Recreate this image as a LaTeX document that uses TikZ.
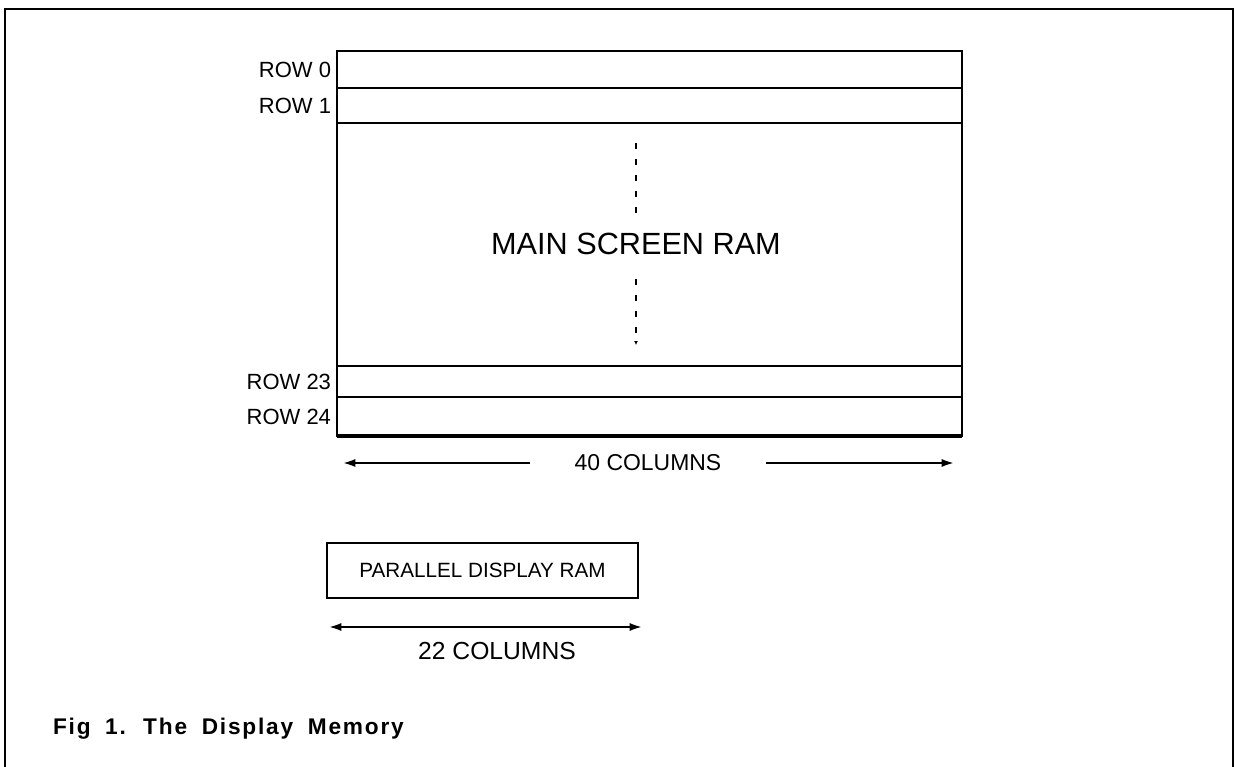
\documentclass[tikz,border=0pt]{standalone}
\usepackage{fontspec}
\setmainfont{Liberation Sans}
\newfontfamily\figcapfont[LetterSpace=8,WordSpace=1.8]{Liberation Sans}
\usetikzlibrary{arrows.meta,positioning}

\begin{document}
\begin{tikzpicture}[
  x=0.75pt, y=-0.75pt,
  every node/.style={inner sep=0pt, outer sep=0pt},
  rowbox/.style={draw, line width=1.9pt, minimum width=468.75pt, anchor=north},
  rowlabel/.style={font=\fontsize{16.5}{18}\selectfont},
  dimarrow/.style={line width=2.2pt, -{Latex[length=10pt,width=6pt]}},
  dimboth/.style={line width=2pt, {Latex[length=10pt,width=6pt]}-{Latex[length=10pt,width=6pt]}},
  guide/.style={line width=0.9pt, dash pattern=on 4.5pt off 7.5pt}
]
\useasboundingbox (0,0) rectangle (1236,767);
% outer frame
\draw[line width=1.4pt] (5,767) |- (1233,9) -- (1233,767);

% main screen ram, one band per row
\node[rowbox, minimum height=27.75pt, anchor=north west] (row0) at (337,51) {};
\node[rowbox, minimum height=26.25pt, below=0pt of row0] (row1) {};
\node[rowbox, minimum height=182.25pt, below=0pt of row1] (rowmid) {};
\node[rowbox, minimum height=23.25pt, below=0pt of rowmid] (row23) {};
\node[rowbox, minimum height=29.25pt, below=0pt of row23] (row24) {};
\draw[line width=3pt] (row24.south west) -- (row24.south east);

\node[rowlabel, left=4.5pt of row0] (lrow0) {ROW 0};
\node[rowlabel, left=4.5pt of row1] (lrow1) {ROW 1};
\node[rowlabel, left=4.5pt of row23] (lrow23) {ROW 23};
\node[rowlabel, left=4.5pt of row24] (lrow24) {ROW 24};

\node[font=\fontsize{23}{26}\selectfont] (mainlbl) at (636,244) {MAIN SCREEN RAM};
\coordinate (guidetop) at (636,143);
\coordinate (guidebot) at (636,345);
\draw[guide] (guidetop) -- ([yshift=15pt]mainlbl.north);
\draw[guide, -{Latex[length=3pt,width=3pt]}] ([yshift=-18pt]mainlbl.south) -- (guidebot);

% width of the screen
\node[font=\fontsize{17.2}{20}\selectfont] (cols40) at (648,463) {40 COLUMNS};
\coordinate (cols40l) at (342,463);
\coordinate (cols40r) at (955,463);
\draw[dimarrow] ([xshift=-33.75pt]cols40.west) -- (cols40l);
\draw[dimarrow] ([xshift=33.75pt]cols40.east) -- (cols40r);

% parallel display ram
\node[draw, line width=2.2pt, minimum width=233.25pt, minimum height=41.25pt,
  font=\fontsize{15.5}{18}\selectfont] (pram) at (482.5,570.5) {PARALLEL DISPLAY RAM};
\coordinate (cols22l) at (328,627);
\coordinate (cols22r) at (643,627);
\draw[dimboth] (cols22l) -- (cols22r);
\node[font=\fontsize{18.5}{21}\selectfont] (cols22) at (497,651) {22 COLUMNS};

\node[font=\figcapfont\bfseries\fontsize{17}{20}\selectfont, anchor=base west] (figcap) at (53,734) {Fig 1. The Display Memory};
\end{tikzpicture}
\end{document}
